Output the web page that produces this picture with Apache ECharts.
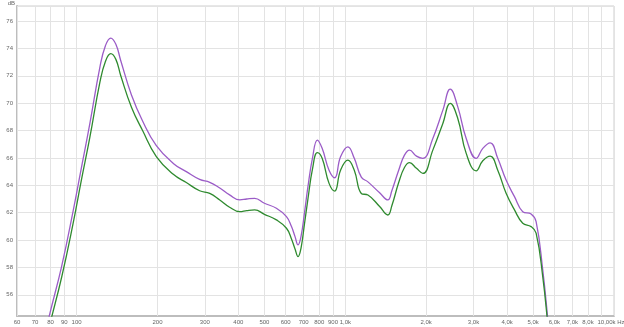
<!DOCTYPE html>
<html>
<head>
<meta charset="utf-8">
<script src="https://cdn.jsdelivr.net/npm/echarts@6/dist/echarts.min.js"></script>
<style>html,body{margin:0;padding:0;background:#fff}#c{width:624px;height:327px}</style>
</head>
<body>
<div id="c"></div>
<script>
var freqs = [72,79,88,97,104,112,122,128,134,140,146,160,176,198,229,256,287,313,341,371,405,430,460,500,554,604,630,650,667,684,705,726,755,787,820,870,913,960,1022,1080,1147,1214,1342,1440,1490,1580,1660,1734,1840,1944,2117,2307,2458,2622,2818,3070,3249,3461,3693,3967,4262,4575,4915,5130,5430,5665,5900];
var purpleDb = [50.9,54.4,58.1,62.1,65.2,68.5,72.6,74.2,74.76,74.3,73.1,70.6,68.7,66.9,65.6,65.0,64.43,64.22,63.8,63.3,62.93,63.0,63.05,62.69,62.32,61.71,61.0,60.25,59.64,60.25,62.0,63.9,66.0,67.3,66.7,65.1,64.55,66.08,66.81,65.97,64.6,64.25,63.45,62.93,63.6,65.1,66.2,66.57,66.13,65.97,67.42,69.49,71.02,69.73,67.42,65.97,66.7,67.1,65.97,64.38,63.17,62.07,61.9,61.34,57.82,54.3,50.5];
var greenDb = [50.1,53.6,57.3,61.2,64.3,67.5,71.5,73.05,73.62,73.2,72.0,69.7,68.0,66.1,64.8,64.2,63.6,63.41,62.93,62.4,62.07,62.15,62.2,61.88,61.47,60.86,60.1,59.35,58.79,59.4,61.2,63.0,65.2,66.38,65.97,64.14,63.58,65.1,65.84,65.1,63.4,63.29,62.45,61.83,62.5,64.2,65.3,65.65,65.24,64.87,66.57,68.52,69.98,68.88,66.33,65.06,65.79,66.13,65.1,63.41,62.2,61.23,60.98,60.5,57.33,53.9,50.2];
var gridFreqs = [60,70,80,90,100,200,300,400,500,600,700,800,900,1000,2000,3000,4000,5000,6000,7000,8000,9000,10000];
var tickLabels = ['60','70','80','90','100','200','300','400','500','600','700','800','900','1,0k','2,0k','3,0k','4,0k','5,0k','6,0k','7,0k','8,0k','','10,00k Hz'];

function pairs(xs, ys){ return xs.map(function(x,i){ return [x, ys[i]]; }); }

var chart = echarts.init(document.getElementById('c'), null, {renderer:'canvas'});
var font = 'Liberation Sans';
chart.setOption({
  animation: false,
  backgroundColor: '#fff',
  grid: {left: 17, right: 10, top: 5.5, bottom: 11, show: true, borderColor: '#cfcfcf', borderWidth: 1, backgroundColor: '#fff'},
  xAxis: {
    type: 'log', min: 60, max: 10000, logBase: 10,
    axisLine: {show: true, onZero: false, lineStyle: {color: '#bdbdbd', width: 2}},
    axisTick: {show: false},
    axisLabel: {show: false},
    splitLine: {show: false}
  },
  yAxis: {
    type: 'value', min: 54.45, max: 77.1, splitNumber: 11,
    name: 'dB', nameLocation: 'end', nameGap: 0,
    nameTextStyle: {fontSize: 6, color: '#666', fontFamily: font, align: 'right', padding: [0, 2, 0, 0]},
    axisLine: {show: true, lineStyle: {color: '#bdbdbd', width: 2}},
    axisTick: {show: false},
    axisLabel: {fontSize: 6, color: '#666', fontFamily: font, margin: 4, showMinLabel: false, showMaxLabel: false},
    splitLine: {show: true, lineStyle: {color: '#e3e3e3', width: 1}}
  },
  series: [
    {
      type: 'line', data: [], z: 1, silent: true,
      markLine: {
        silent: true, symbol: 'none', z: 1, animation: false,
        lineStyle: {color: '#e3e3e3', type: 'solid', width: 1},
        label: {show: true, position: 'start', distance: 3, fontSize: 6, color: '#666', fontFamily: font,
          formatter: function(p){ return tickLabels[gridFreqs.indexOf(p.value)]; }},
        emphasis: {disabled: true},
        data: gridFreqs.map(function(f){
          var item = {xAxis: f};
          if (f === 10000) item.label = {offset: [-3, 0]};
          return item;
        })
      }
    },
    {
      type: 'line', name: 'purple', data: pairs(freqs, purpleDb), smooth: 0.45, symbol: 'none', z: 3,
      lineStyle: {color: '#9b5cc7', width: 1.3}
    },
    {
      type: 'line', name: 'green', data: pairs(freqs, greenDb), smooth: 0.45, symbol: 'none', z: 3,
      lineStyle: {color: '#2f8a2f', width: 1.3}
    }
  ]
});
</script>
</body>
</html>
